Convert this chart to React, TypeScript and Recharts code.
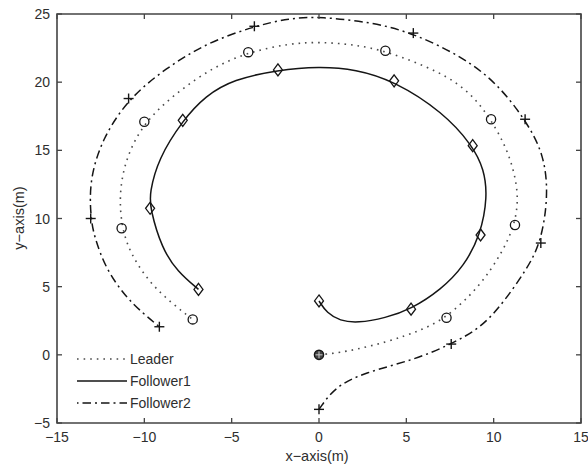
import React from 'react';
import { ComposedChart, Line, Scatter, XAxis, YAxis, ReferenceArea, Legend } from 'recharts';

// ---------- data ----------
const xTicks = [-15, -10, -5, 0, 5, 10, 15];
const yTicks = [-5, 0, 5, 10, 15, 20, 25];

const leaderPath = [
  { x: 0, y: 0 }, { x: 1.5, y: 0.2 }, { x: 3.95, y: 0.95 }, { x: 5.85, y: 1.8 }, { x: 7.3, y: 2.72 },
  { x: 9.2, y: 5.0 }, { x: 10.46, y: 7.45 }, { x: 11.22, y: 9.52 }, { x: 11.47, y: 11.85 }, { x: 10.9, y: 14.8 },
  { x: 9.85, y: 17.28 }, { x: 8.7, y: 19.2 }, { x: 7.0, y: 20.75 }, { x: 3.8, y: 22.3 }, { x: 2.05, y: 22.75 },
  { x: 0.1, y: 22.95 }, { x: -1.65, y: 22.85 }, { x: -4.05, y: 22.2 }, { x: -6.05, y: 21.1 }, { x: -8.1, y: 19.3 },
  { x: -10.0, y: 17.1 }, { x: -11.05, y: 14.5 }, { x: -11.45, y: 11.85 }, { x: -11.3, y: 9.28 }, { x: -10.75, y: 7.3 },
  { x: -9.67, y: 5.25 }, { x: -8.4, y: 3.75 }, { x: -7.23, y: 2.6 },
];
const leaderMarks = [
  { x: 7.3, y: 2.72 }, { x: 11.22, y: 9.52 }, { x: 9.85, y: 17.28 }, { x: 3.8, y: 22.3 },
  { x: -4.05, y: 22.2 }, { x: -10.0, y: 17.1 }, { x: -11.3, y: 9.28 }, { x: -7.23, y: 2.6 },
];
const startMarks = [{ x: 0, y: 0 }];

const follower1Path = [
  { x: 0, y: 3.95 }, { x: 0.45, y: 3.07 }, { x: 1.2, y: 2.5 }, { x: 2.2, y: 2.33 }, { x: 3.8, y: 2.7 },
  { x: 5.27, y: 3.35 }, { x: 7.0, y: 4.8 }, { x: 8.3, y: 6.5 }, { x: 9.25, y: 8.79 }, { x: 9.65, y: 11.6 },
  { x: 9.45, y: 13.6 }, { x: 8.8, y: 15.34 }, { x: 7.1, y: 17.8 }, { x: 4.3, y: 20.1 },
  { x: 2.1, y: 20.95 }, { x: 0, y: 21.15 }, { x: -2.35, y: 20.9 }, { x: -4.9, y: 20.2 }, { x: -6.5, y: 19.0 },
  { x: -7.8, y: 17.2 }, { x: -9.2, y: 14.4 }, { x: -9.7, y: 11.85 }, { x: -9.67, y: 10.75 }, { x: -9.0, y: 7.8 },
  { x: -8.1, y: 6.1 }, { x: -6.9, y: 4.8 },
];
const follower1Marks = [
  { x: 0, y: 3.95 }, { x: 5.27, y: 3.35 }, { x: 9.25, y: 8.79 }, { x: 8.8, y: 15.34 }, { x: 4.3, y: 20.1 },
  { x: -2.35, y: 20.9 }, { x: -7.8, y: 17.2 }, { x: -9.67, y: 10.75 }, { x: -6.9, y: 4.8 },
];

const follower2Path = [
  { x: 0, y: -4.0 }, { x: 0.9, y: -2.35 }, { x: 2.6, y: -1.3 }, { x: 5.5, y: -0.35 }, { x: 7.57, y: 0.79 },
  { x: 9.3, y: 2.0 }, { x: 10.6, y: 3.9 }, { x: 11.9, y: 6.3 }, { x: 12.7, y: 8.2 }, { x: 13.13, y: 11.6 },
  { x: 12.9, y: 14.7 }, { x: 11.8, y: 17.28 }, { x: 10.2, y: 19.9 }, { x: 8.3, y: 21.8 }, { x: 5.4, y: 23.6 },
  { x: 3.0, y: 24.4 }, { x: 0.1, y: 24.8 }, { x: -1.7, y: 24.7 }, { x: -3.7, y: 24.1 }, { x: -6.4, y: 22.9 },
  { x: -8.8, y: 21.0 }, { x: -10.9, y: 18.8 }, { x: -12.4, y: 15.9 }, { x: -13.15, y: 12.8 }, { x: -13.07, y: 10.0 },
  { x: -12.85, y: 8.6 }, { x: -12.2, y: 6.3 }, { x: -11.1, y: 4.3 }, { x: -10.1, y: 3.07 }, { x: -9.14, y: 2.06 },
];
const follower2Marks = [
  { x: 0, y: -4.0 }, { x: 7.57, y: 0.79 }, { x: 12.7, y: 8.2 }, { x: 11.8, y: 17.28 }, { x: 5.4, y: 23.6 },
  { x: -3.7, y: 24.1 }, { x: -10.9, y: 18.8 }, { x: -13.07, y: 10.0 }, { x: -9.14, y: 2.06 },
];

const legendLabels = ['Leader', 'Follower1', 'Follower2'];

// ---------- styles ----------
const W = 588;
const H = 470;
const PLOT_TOP = 14;
const PLOT_RIGHT = 581;
const X_MARGIN = 8;
const Y_MARGIN = 7;
const AXIS = '#444';
const INK = '#151515';
const DOTINK = '#4a4a4a';
const TEXT = '#2e2e2e';
const FONT = '"Liberation Sans", Arial, Helvetica, sans-serif';
const DOT = '1.6 5';
const DASHDOT = '8.5 4 2 4';

const fmt = (v: number) => (v < 0 ? `\u2212${Math.abs(v)}` : `${v}`);

const XTick = (props: any) => {
  const { x, y, payload } = props;
  const axisY = y - X_MARGIN;
  return (
    <g>
      <line x1={x} x2={x} y1={axisY} y2={axisY - 5} stroke={AXIS} strokeWidth={1.3} />
      <line x1={x} x2={x} y1={PLOT_TOP} y2={PLOT_TOP + 5} stroke={AXIS} strokeWidth={1.3} />
      <text x={x} y={axisY + 19} textAnchor="middle" fontSize={14} fontFamily={FONT} fill={TEXT}>
        {fmt(payload.value)}
      </text>
    </g>
  );
};

const YTick = (props: any) => {
  const { x, y, payload } = props;
  const axisX = x + Y_MARGIN;
  return (
    <g>
      <line x1={axisX} x2={axisX + 5} y1={y} y2={y} stroke={AXIS} strokeWidth={1.3} />
      <line x1={PLOT_RIGHT - 5} x2={PLOT_RIGHT} y1={y} y2={y} stroke={AXIS} strokeWidth={1.3} />
      <text x={x} y={y + 5} textAnchor="end" fontSize={14} fontFamily={FONT} fill={TEXT}>
        {fmt(payload.value)}
      </text>
    </g>
  );
};

const circleShape = (p: any) => (
  <circle cx={p.cx} cy={p.cy} r={4.6} fill="none" stroke={INK} strokeWidth={1.3} />
);
const diamondShape = (p: any) => (
  <polygon
    points={`${p.cx},${p.cy - 6} ${p.cx + 4.5},${p.cy} ${p.cx},${p.cy + 6} ${p.cx - 4.5},${p.cy}`}
    fill="none"
    stroke={INK}
    strokeWidth={1.3}
  />
);
const plusShape = (p: any) => (
  <g stroke={INK} strokeWidth={1.4}>
    <line x1={p.cx - 5} x2={p.cx + 5} y1={p.cy} y2={p.cy} />
    <line x1={p.cx} x2={p.cx} y1={p.cy - 5} y2={p.cy + 5} />
  </g>
);
const startShape = (p: any) => (
  <g>
    <circle cx={p.cx} cy={p.cy} r={4.6} fill="#444" stroke={INK} strokeWidth={1.4} />
    <line x1={p.cx - 3.5} x2={p.cx + 3.5} y1={p.cy} y2={p.cy} stroke="#ccc" strokeWidth={1} />
    <line x1={p.cx} x2={p.cx} y1={p.cy - 3.5} y2={p.cy + 3.5} stroke="#ccc" strokeWidth={1} />
  </g>
);

const legendStyles = [
  { dash: DOT, color: DOTINK, width: 1.6 },
  { dash: undefined, color: INK, width: 1.6 },
  { dash: DASHDOT, color: INK, width: 1.5 },
];

const renderLegend = () => (
  <svg width={140} height={72} style={{ display: 'block' }}>
    {legendLabels.map((label, i) => {
      const cy = 14 + i * 22;
      const s = legendStyles[i];
      return (
        <g key={label}>
          <line
            x1={7}
            x2={57}
            y1={cy}
            y2={cy}
            stroke={s.color}
            strokeWidth={s.width}
            strokeDasharray={s.dash}
            strokeDashoffset={i === 2 ? 13 : 0}
          />
          <text x={60} y={cy + 5} fontSize={14} fontFamily={FONT} fill={TEXT}>
            {label}
          </text>
        </g>
      );
    })}
  </svg>
);

const yLabel = () => (
  <text
    x={19}
    y={218}
    transform="rotate(-90 19 218)"
    textAnchor="middle"
    dominantBaseline="central"
    fontSize={14.5}
    fontFamily={FONT}
    fill={TEXT}
  >
    y{'\u2212'}axis(m)
  </text>
);

const xLabel = () => (
  <text x={317} y={461} textAnchor="middle" fontSize={14.5} fontFamily={FONT} fill={TEXT}>
    x{'\u2212'}axis(m)
  </text>
);

export default function App() {
  return (
    <div style={{ width: W, height: H, background: '#fff' }}>
      <style>{'body{margin:0;background:#fff}'}</style>
      <ComposedChart width={W} height={H} margin={{ top: PLOT_TOP, right: W - PLOT_RIGHT, bottom: 0, left: 0 }}>
        <XAxis
          type="number"
          dataKey="x"
          domain={[-15, 15]}
          ticks={xTicks}
          height={47}
          tickSize={0}
          tickMargin={X_MARGIN}
          tickLine={false}
          axisLine={false}
          tick={XTick}
          interval={0}
          label={xLabel}
        />
        <YAxis
          type="number"
          dataKey="y"
          domain={[-5, 25]}
          ticks={yTicks}
          width={57}
          tickSize={0}
          tickMargin={Y_MARGIN}
          tickLine={false}
          axisLine={false}
          tick={YTick}
          interval={0}
          label={yLabel}
        />
        <ReferenceArea x1={-15} x2={15} y1={-5} y2={25} fill="none" stroke={AXIS} strokeWidth={1.6} fillOpacity={0} />
        <Line
          data={leaderPath}
          dataKey="y"
          name="Leader"
          type="basis"
          stroke={DOTINK}
          strokeWidth={1.6}
          strokeDasharray={DOT}
          dot={false}
          activeDot={false}
          isAnimationActive={false}
        />
        <Line
          data={follower1Path}
          dataKey="y"
          name="Follower1"
          type="basis"
          stroke={INK}
          strokeWidth={1.5}
          dot={false}
          activeDot={false}
          isAnimationActive={false}
        />
        <Line
          data={follower2Path}
          dataKey="y"
          name="Follower2"
          type="basis"
          stroke={INK}
          strokeWidth={1.5}
          strokeDasharray={DASHDOT}
          dot={false}
          activeDot={false}
          isAnimationActive={false}
        />
        <Scatter data={leaderMarks} shape={circleShape} legendType="none" isAnimationActive={false} />
        <Scatter data={follower1Marks} shape={diamondShape} legendType="none" isAnimationActive={false} />
        <Scatter data={follower2Marks} shape={plusShape} legendType="none" isAnimationActive={false} />
        <Scatter data={startMarks} shape={startShape} legendType="none" isAnimationActive={false} />
        <Legend
          layout="vertical"
          align="center"
          verticalAlign="middle"
          wrapperStyle={{ left: 70, top: 345, width: 140, height: 72 }}
          content={renderLegend}
        />
      </ComposedChart>
    </div>
  );
}
